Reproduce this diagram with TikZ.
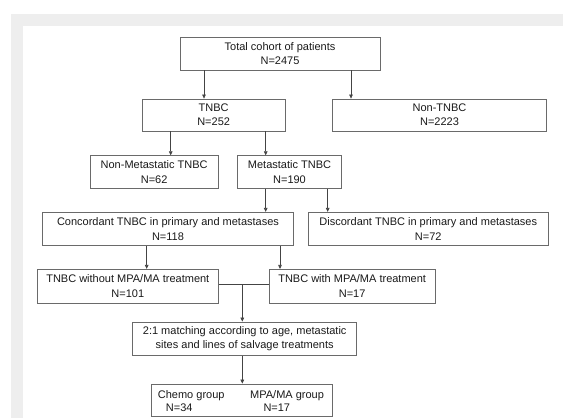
\documentclass[tikz,border=0pt]{standalone}
\usepackage{fontspec}
\setmainfont{Liberation Sans}
\usetikzlibrary{arrows.meta}
\definecolor{bg}{HTML}{EEEEEE}
\definecolor{boxline}{HTML}{6A6A6A}
\definecolor{conline}{HTML}{444444}
\definecolor{txt}{HTML}{1A1A1A}
\begin{document}
\begin{tikzpicture}[x=1pt,y=-1pt,
  box/.style={draw=boxline, line width=0.8pt, fill=white, minimum width=#1,
    inner sep=0pt, align=center, font=\fontsize{11}{14.4}\selectfont, text=txt},
  arr/.style={draw=conline, line width=0.7pt, -{Triangle[length=4pt,width=3.6pt]}},
  ln/.style={draw=conline, line width=0.7pt},
  lbl/.style={font=\fontsize{11}{14.4}\selectfont, text=txt, inner sep=0pt, anchor=base west}
]
\useasboundingbox (0,0) rectangle (563,418);
\fill[white] (0,0) rectangle (563,418);
\fill[bg] (11,14) rectangle (563,418);
\fill[white] (22.7,26) rectangle (563,418);

\node[box=200pt, minimum height=32.7pt] (total) at (280,53.65) {Total cohort of patients\\N=2475};
\node[box=142.7pt, minimum height=32pt] (tnbc) at (213.65,115) {TNBC\\N=252};
\node[box=214.4pt, minimum height=32pt] (nontnbc) at (439.5,115) {Non-TNBC\\N=2223};
\node[box=128.3pt, minimum height=32.6pt] (nonmet) at (154.15,172) {Non-Metastatic TNBC\\N=62};
\node[box=104.4pt, minimum height=32.6pt] (met) at (289.5,172) {Metastatic TNBC\\N=190};
\node[box=250.6pt, minimum height=33.4pt] (conc) at (168,229) {Concordant TNBC in primary and metastases\\N=118};
\node[box=240pt, minimum height=33.4pt] (disc) at (428.3,229) {Discordant TNBC in primary and metastases\\N=72};
\node[box=181pt, minimum height=33.7pt] (without) at (127.8,286.15) {TNBC without MPA/MA treatment\\N=101};
\node[box=165.7pt, minimum height=33.7pt] (with) at (352.15,286.15) {TNBC with MPA/MA treatment\\N=17};
\node[box=224pt, minimum height=33.3pt] (match) at (244.7,338.65) {2:1 matching according to age, metastatic\\sites and lines of salvage treatments};
\node[box=180.6pt, minimum height=32.7pt] (chemo) at (242,400.35) {};
\node[lbl] (chemoA) at (157.7,398.6) {Chemo group};
\node[lbl] (chemoB) at (165.7,411) {N=34};
\node[lbl] (mpaA) at (250,398.6) {MPA/MA group};
\node[lbl] (mpaB) at (263.3,411) {N=17};

\coordinate (xa) at (204,0);
\coordinate (xb) at (351,0);
\coordinate (xc) at (170.7,0);
\coordinate (xd) at (265.7,0);
\coordinate (xe) at (327.7,0);
\coordinate (xf) at (146.7,0);
\coordinate (xg) at (280,0);
\coordinate (j) at (242.3,284);

\draw[arr] (total.south -| xa) -- (tnbc.north -| xa);
\draw[arr] (total.south -| xb) -- (nontnbc.north -| xb);
\draw[arr] (tnbc.south -| xc) -- (nonmet.north -| xc);
\draw[arr] (tnbc.south -| xd) -- (met.north -| xd);
\draw[arr] (met.south -| xd) -- (conc.north -| xd);
\draw[arr] (met.south -| xe) -- (disc.north -| xe);
\draw[arr] (conc.south -| xf) -- (without.north -| xf);
\draw[arr] (conc.south -| xg) -- (with.north -| xg);
\draw[ln] (without.east |- j) -- (with.west |- j);
\draw[arr] (j) -- (match.north -| j);
\draw[arr] (match.south -| j) -- (chemo.north -| j);
\end{tikzpicture}
\end{document}
